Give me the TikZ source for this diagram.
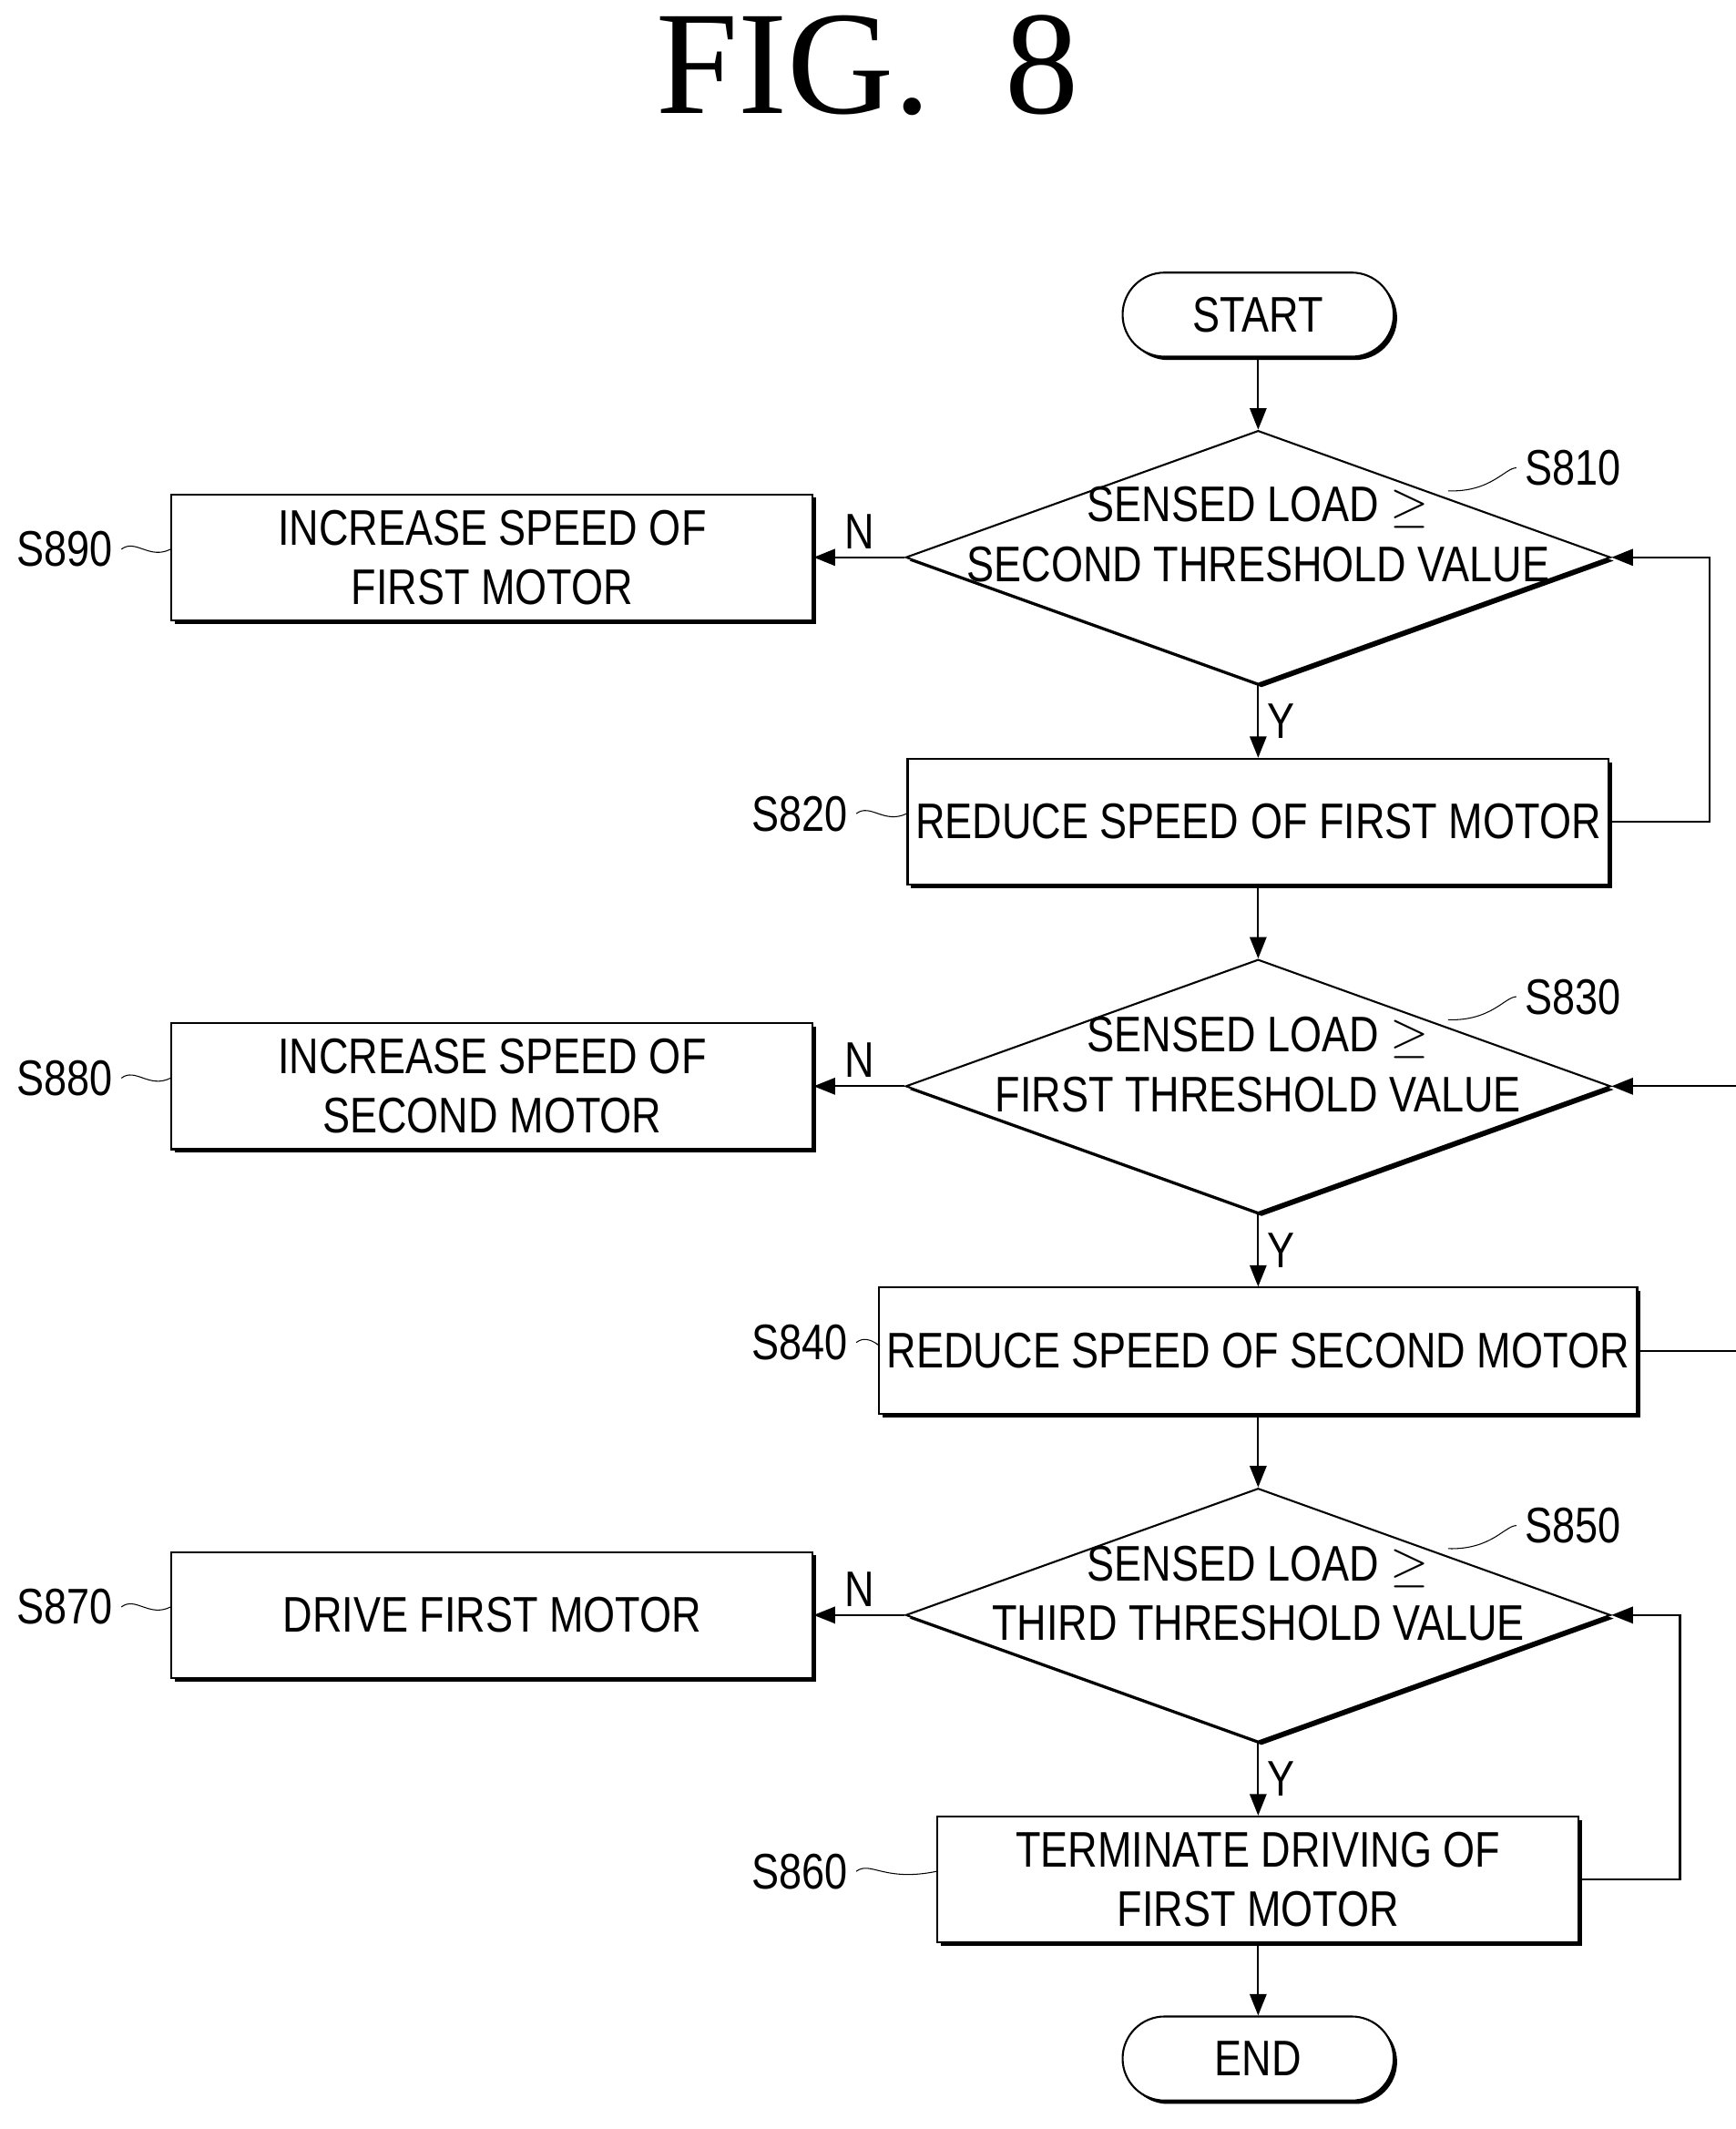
\documentclass[tikz,border=0pt]{standalone}
\usepackage{fontspec}
\setmainfont{Liberation Serif}
\newfontfamily\flowfont[FakeStretch=0.82]{Liberation Sans}
\usetikzlibrary{shapes.geometric,shadows,arrows.meta}
\tikzstyle{arrow} = [thick,-{Triangle[length=9pt,width=7pt]}]
\tikzstyle{box} = [draw, thick, fill=white, minimum width=9.46cm, minimum height=1.86cm, align=center,
  font=\flowfont\fontsize{21}{25}\selectfont,
  drop shadow={shadow xshift=0.05cm, shadow yshift=-0.05cm, opacity=1, fill=black}]
\tikzstyle{term} = [box, rounded corners=0.62cm, minimum width=4cm, minimum height=1.24cm]
\tikzstyle{decision} = [draw, thick, diamond, fill=white, inner sep=0pt, minimum width=10.4cm, minimum height=3.74cm,
  drop shadow={shadow xshift=0.05cm, shadow yshift=-0.05cm, opacity=1, fill=black}]
\tikzstyle{txt} = [align=center, font=\flowfont\fontsize{21}{25}\selectfont]
\tikzstyle{tag} = [font=\flowfont\fontsize{21}{25}\selectfont]
\begin{document}
\begin{tikzpicture}[x=0.02cm, y=-0.02cm]
\useasboundingbox (0,0) rectangle (1280,1570);
\node[font=\fontsize{62}{70}\selectfont] (title) at (640,48) {FIG.~~8};

\node[term] (start) at (928,232) {START};
\node[decision] (d810) at (928,411) {};
\node[txt] at (928,394) {SENSED LOAD $\geq$\\SECOND THRESHOLD VALUE};
\node[box] (s890) at (363,411) {INCREASE SPEED OF\\FIRST MOTOR};
\node[box] (s820) at (928,606) {REDUCE SPEED OF FIRST MOTOR};
\node[decision] (d830) at (928,801) {};
\node[txt] at (928,785) {SENSED LOAD $\geq$\\FIRST THRESHOLD VALUE};
\node[box] (s880) at (363,801) {INCREASE SPEED OF\\SECOND MOTOR};
\node[box] (s840) at (928,996) {REDUCE SPEED OF SECOND MOTOR};
\node[decision] (d850) at (928,1191) {};
\node[txt] at (928,1175) {SENSED LOAD $\geq$\\THIRD THRESHOLD VALUE};
\node[box] (s870) at (363,1191) {DRIVE FIRST MOTOR};
\node[box] (s860) at (928,1386) {TERMINATE DRIVING OF\\FIRST MOTOR};
\node[term] (end) at (928,1518) {END};

% main flow
\draw[arrow] (start) -- (d810.north);
\draw[arrow] (d810.south) -- node[tag, right] {Y} (s820);
\draw[arrow] (s820) -- (d830.north);
\draw[arrow] (d830.south) -- node[tag, right] {Y} (s840);
\draw[arrow] (s840) -- (d850.north);
\draw[arrow] (d850.south) -- node[tag, right] {Y} (s860);
\draw[arrow] (s860) -- (end);

% no branches
\draw[arrow] (d810.west) -- node[tag, above] {N} (s890);
\draw[arrow] (d830.west) -- node[tag, above] {N} (s880);
\draw[arrow] (d850.west) -- node[tag, above] {N} (s870);

% feedback loops
\draw[arrow] (s820.east) -- ++(74,0) |- (d810.east);
\draw[arrow] (s840.east) -- ++(74,0) |- (d830.east);
\draw[arrow] (s860.east) -- ++(74,0) |- (d850.east);

% step labels
\foreach \s/\n/\y in {890/s890/405,880/s880/795,870/s870/1185}{
  \node[tag] (l\s) at (48,\y) {S\s};
  \draw (l\s.east) .. controls (100,\y-8) and (110,\y+8) .. (\n.west |- 0,\y);
}
\foreach \s/\n/\y in {820/s820/600,840/s840/990,860/s860/1380}{
  \node[tag] (l\s) at (590,\y) {S\s};
  \draw (l\s.east) .. controls (642,\y-8) and (652,\y+8) .. (\n.west |- 0,\y);
}
\foreach \s/\y in {810/345,830/735,850/1125}{
  \node[tag] (l\s) at (1160,\y) {S\s};
  \draw (l\s.west) .. controls (1110,\y) and (1100,\y+18) .. (1068,\y+17);
}
\end{tikzpicture}
\end{document}
